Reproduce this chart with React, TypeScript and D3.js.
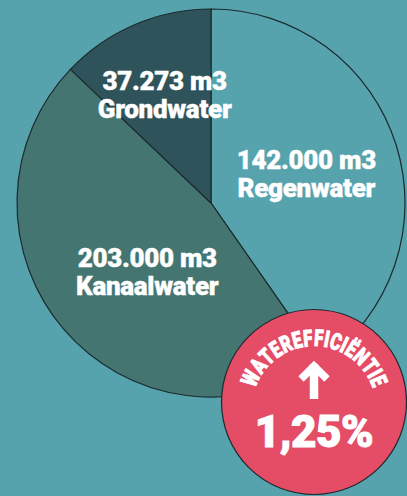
import React from 'react';
import * as d3 from 'd3';

// water sources, clockwise from 12 o'clock
const sources = ['Regenwater', 'Kanaalwater', 'Grondwater'];
const volumeLabels = ['142.000 m3', '203.000 m3', '37.273 m3'];
// slice sizes as drawn in the picture (in %, the artwork is not exactly proportional to the volumes)
const sliceShares = [40.3, 46.8, 12.9];
const sliceColors = ['#56a3ad', '#447571', '#2f535a'];
// small nudges so labels sit where the original has them
const labelNudge = [[0, 0], [12, 3], [-7, -17]];

const badgeTitle = 'WATEREFFICIËNTIE';
const badgeValue = '1,25%';

// Roboto Bold advance widths (em) for the badge letters
const glyphW: Record<string, number> = {
  W: 0.88, A: 0.66, T: 0.62, E: 0.57, R: 0.63, F: 0.56,
  I: 0.28, C: 0.65, 'Ë': 0.57, N: 0.71,
};

const width = 407;
const height = 496;
const bg = '#56a3ad';
const strokeCol = '#1c2b2f';
const fontFamily = 'Roboto, "Liberation Sans", sans-serif';

export default function App() {
  const cx = 211;
  const cy = 203;
  const radius = 194;

  const pie = d3.pie<number>().sort(null).value(d => d);
  const arcs = pie(sliceShares);

  const arc = d3.arc<d3.PieArcDatum<number>>()
    .innerRadius(0)
    .outerRadius(radius);

  const labelArc = d3.arc<d3.PieArcDatum<number>>()
    .innerRadius(radius * 0.515)
    .outerRadius(radius * 0.515);

  // badge
  const bx = 314;
  const by = 402;
  const br = 92.5;
  const textR = 62;
  const textCy = by + 6;
  const fs = 23;
  const squeeze = 0.72;
  const spacing = 0.4;

  const chars = Array.from(badgeTitle);
  const widths = chars.map(c => (glyphW[c] ?? 0.6) * fs * squeeze + spacing);
  const total = d3.sum(widths);
  let run = -total / 2;
  const letters = chars.map((c, i) => {
    const s = run + widths[i] / 2;
    run += widths[i];
    const a = s / textR;
    return {
      c,
      x: bx + textR * Math.sin(a),
      y: textCy - textR * Math.cos(a),
      deg: (a * 180) / Math.PI,
    };
  });

  return (
    <svg
      width={width}
      height={height}
      viewBox={`0 0 ${width} ${height}`}
      style={{ position: 'absolute', left: 0, top: 0, display: 'block' }}
    >
      <rect width={width} height={height} fill={bg} />

      <g transform={`translate(${cx},${cy})`}>
        {arcs.map((d, i) => (
          <path
            key={sources[i]}
            d={arc(d) || ''}
            fill={sliceColors[i]}
            stroke={strokeCol}
            strokeWidth={1.2}
          />
        ))}
        {arcs.map((d, i) => {
          const [lx, ly] = labelArc.centroid(d);
          const x = lx + labelNudge[i][0];
          const y = ly + labelNudge[i][1];
          return (
            <text
              key={'l' + i}
              x={x}
              y={y}
              textAnchor="middle"
              fill="#ffffff"
              stroke="#ffffff"
              strokeWidth={0.4}
              fontFamily={fontFamily}
              fontWeight={900}
              fontSize={26}
              letterSpacing={-0.3}
            >
              <tspan x={x} dy={-4}>{volumeLabels[i]}</tspan>
              <tspan x={x} dy={28}>{sources[i]}</tspan>
            </text>
          );
        })}
      </g>

      <g>
        <circle cx={bx} cy={by} r={br} fill="#e54c66" stroke={strokeCol} strokeWidth={1.2} />
        <g
          fill="#ffffff"
          stroke="#ffffff"
          strokeWidth={1}
          fontFamily={fontFamily}
          fontWeight={900}
          fontSize={fs}
          textAnchor="middle"
        >
          {letters.map((l, i) => (
            <text
              key={'t' + i}
              transform={`translate(${l.x},${l.y}) rotate(${l.deg}) scale(${squeeze},1)`}
            >
              {l.c}
            </text>
          ))}
        </g>
        <path
          d={`M${bx},${by - 38} L${bx},${by - 3}`}
          stroke="#ffffff"
          strokeWidth={8.5}
          fill="none"
        />
        <path
          d={`M${bx - 13},${by - 23} L${bx},${by - 36} L${bx + 13},${by - 23}`}
          stroke="#ffffff"
          strokeWidth={7.5}
          fill="none"
          strokeLinejoin="miter"
        />
        <text
          x={bx}
          y={by + 45}
          textAnchor="middle"
          fill="#ffffff"
          stroke="#ffffff"
          strokeWidth={1}
          fontFamily={fontFamily}
          fontWeight={900}
          fontSize={44}
          letterSpacing={-0.5}
        >
          {badgeValue}
        </text>
      </g>
    </svg>
  );
}
